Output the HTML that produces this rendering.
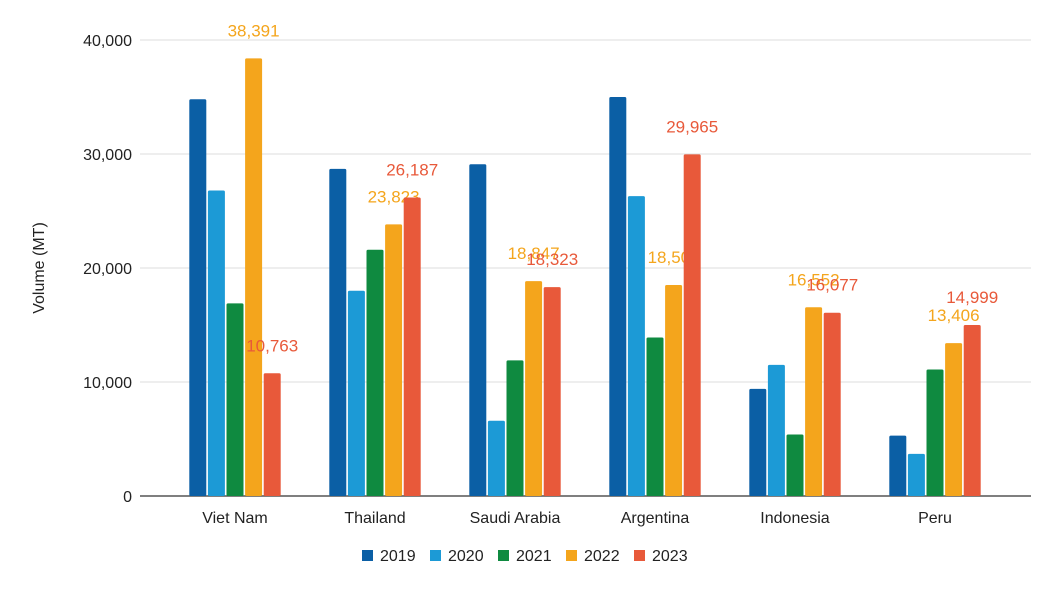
<!DOCTYPE html>
<html><head><meta charset="utf-8"><style>
body{margin:0;background:#fff;font-family:"Liberation Sans",sans-serif}
svg text{font-family:"Liberation Sans",sans-serif}
</style></head><body>
<svg width="1061" height="597" viewBox="0 0 1061 597">
<g id="grid"></g>
<g id="yt"></g>
<text transform="translate(44,268) rotate(-90)" text-anchor="middle" font-size="16" fill="#222">Volume (MT)</text>
<g id="bars"></g>
<g id="xt"></g>
<g id="leg"></g>
</svg>
<script>
const categories=["Viet Nam","Thailand","Saudi Arabia","Argentina","Indonesia","Peru"];
const years=["2019","2020","2021","2022","2023"];
const s2019=[34800,28700,29100,35000,9400,5300];
const s2020=[26800,18000,6600,26300,11500,3700];
const s2021=[16900,21600,11900,13900,5400,11100];
const s2022=[38391,23823,18847,18507,16552,13406];
const s2023=[10763,26187,18323,29965,16077,14999];
const yTicks=[0,10000,20000,30000,40000];
const series=[s2019,s2020,s2021,s2022,s2023];
const colors=["#0b5fa5","#1c9ad6","#0f8a40","#f4a51c","#e8593a"];
const labeled=[false,false,false,true,true];
const NS="http://www.w3.org/2000/svg";
const y0=496,yTop=40,x0=140,x1=1031;
const y=v=>y0-(v/40000)*(y0-yTop);
const cx=i=>235+140*i;
const bw=17,gap=1.6;
function mk(tag,attrs,parent,txt){const e=document.createElementNS(NS,tag);for(const k in attrs)e.setAttribute(k,attrs[k]);if(txt!=null)e.textContent=txt;parent.appendChild(e);return e;}
const grid=document.getElementById('grid'),yt=document.getElementById('yt'),bars=document.getElementById('bars'),xt=document.getElementById('xt'),leg=document.getElementById('leg');
yTicks.forEach(t=>{
 const l=mk('line',{x1:x0,x2:x1,y1:y(t),y2:y(t),stroke:t===0?'#555':'#ddd','stroke-width':t===0?1.5:1},grid);
 
 
 const tx=mk('text',{x:132,y:y(t)+6,'text-anchor':'end','font-size':16,fill:'#222'},yt,t.toLocaleString('en-US'));
 
 
});
const totalW=bw*5+gap*4;
categories.forEach((c,i)=>{
 const start=cx(i)-totalW/2;
 series.forEach((s,j)=>{
  const x=start+j*(bw+gap),v=s[i];
  const r=mk('rect',{x:x,y:y(v),width:bw,height:y0-y(v),fill:colors[j],rx:1.5},bars);
  
  
  if(labeled[j]){
   const t=mk('text',{x:x+bw/2,y:y(v)-22,'text-anchor':'middle','font-size':17,fill:colors[j]},bars,v.toLocaleString('en-US'));
   
   
  }
 });
 const t=mk('text',{x:cx(i),y:523,'text-anchor':'middle','font-size':16,fill:'#222'},xt,c);
 
 
});
years.forEach((yr,j)=>{
 const lx=362+j*68;
 const r=mk('rect',{x:lx,y:550,width:11,height:11,fill:colors[j]},leg);
 
 
 const t=mk('text',{x:lx+18,y:561,'font-size':16,fill:'#222'},leg,yr);
 
 
});
</script>
</body></html>
